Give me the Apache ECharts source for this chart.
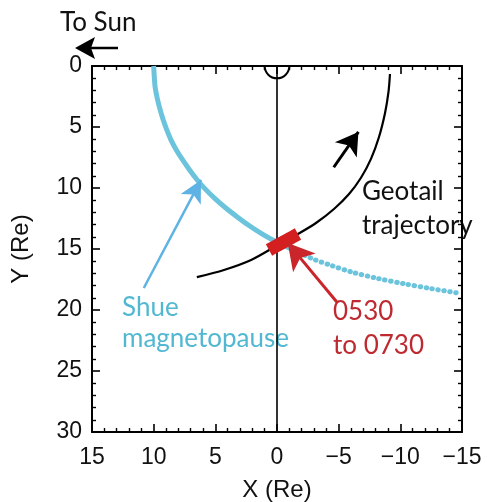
<!DOCTYPE html>
<html>
<head>
<meta charset="utf-8">
<script src="https://cdn.jsdelivr.net/npm/echarts@6/dist/echarts.min.js"></script>
<style>
  html, body { margin: 0; padding: 0; background: #fff; }
  #chart { width: 487px; height: 502px; }
</style>
</head>
<body>
<div id="chart"></div>
<script>
// Shue model magnetopause in the X-Y plane (Re); solid on the dayside, dotted downstream
const shueSolid = [
  [10.0, 0], [9.95, 0.9], [9.88, 1.75], [9.72, 2.6], [9.5, 3.5], [9.25, 4.35],
  [8.95, 5.2], [8.6, 6.05], [8.15, 6.9], [7.65, 7.7], [7.1, 8.5],
  [6.5, 9.3], [5.85, 10.05], [5.05, 10.85], [4.2, 11.6], [3.25, 12.35],
  [2.3, 13.05], [1.15, 13.8], [0, 14.45], [-0.95, 14.9], [-1.8, 15.3]
];
const shueDotted = [
  [-1.8, 15.3], [-3, 15.85], [-4.4, 16.35], [-6.1, 16.9], [-8.1, 17.4],
  [-10.3, 17.85], [-12.5, 18.25], [-14.6, 18.6]
];
// Geotail orbit track and the 0530-0730 interval on it
const geotailTrack = [
  [6.5, 17.3], [4.3, 16.72], [2.1, 15.9], [-0.08, 14.67], [-1.7, 13.77],
  [-3.16, 12.87], [-4.62, 11.72], [-5.84, 10.49], [-6.81, 9.16],
  [-7.62, 7.61], [-8.27, 5.82], [-8.76, 3.85], [-9.04, 2.13], [-9.16, 0.66]
];
const geotailInterval = [[0.65, 15.08], [-0.08, 14.67], [-0.9, 14.22], [-1.7, 13.77]];
// Noon-midnight meridian and the Earth (radius 1 Re)
const meridian = [[0, 0], [0, 30]];
const earth = [[0, 0, 1]];
// Annotation arrows: [tail, tip]
const motionArrow = [[-4.6, 8.3], [-6.6, 5.4]];
const shueArrow = [[10.8, 18.2], [6.16, 9.34]];
const intervalArrow = [[-4.9, 19.4], [-0.87, 14.5]];
// Axis ticks
const xTickValues = [15, 10, 5, 0, -5, -10, -15];
const yTickValues = [0, 5, 10, 15, 20, 25, 30];

const fmt = v => (v < 0 ? '\u2212' + Math.abs(v) : String(v));

const chart = echarts.init(document.getElementById('chart'), null, { renderer: 'canvas' });

const axisCommon = {
  type: 'value',
  interval: 5,
  inverse: true,
  axisLine: { show: true, onZero: false, lineStyle: { color: '#000', width: 2 } },
  axisTick: { show: true, inside: true, length: 8, lineStyle: { color: '#000', width: 1.6 } },
  minorTick: { show: true, splitNumber: 5, length: 4, lineStyle: { color: '#000', width: 1.4 } },
  splitLine: { show: false },
  minorSplitLine: { show: false }
};
const labelStyle = {
  fontFamily: 'Liberation Sans, Arial, sans-serif',
  fontSize: 23,
  color: '#111'
};
const nameStyle = {
  fontFamily: 'Liberation Sans, Arial, sans-serif',
  fontSize: 24,
  color: '#111'
};

function arrowLine(pair, color, width, size) {
  return [
    { coord: pair[0], symbol: 'none' },
    { coord: pair[1], symbol: 'arrow', symbolSize: size,
      lineStyle: { color: color, width: width } }
  ];
}

const option = {
  animation: false,
  backgroundColor: '#fff',
  grid: { left: 92, right: 25, top: 66, bottom: 70, containLabel: false, outerBoundsMode: 'none' },
  xAxis: [
    Object.assign({}, axisCommon, {
      min: xTickValues[xTickValues.length - 1], max: xTickValues[0], position: 'bottom',
      axisLabel: Object.assign({ margin: 14, formatter: fmt }, labelStyle),
      name: 'X (Re)', nameLocation: 'middle', nameGap: 46, nameTextStyle: nameStyle
    }),
    Object.assign({}, axisCommon, {
      min: xTickValues[xTickValues.length - 1], max: xTickValues[0], position: 'top',
      axisLabel: { show: false }
    })
  ],
  yAxis: [
    Object.assign({}, axisCommon, {
      min: yTickValues[0], max: yTickValues[yTickValues.length - 1], position: 'left',
      axisLabel: Object.assign({ margin: 10, formatter: fmt }, labelStyle),
      name: 'Y (Re)', nameLocation: 'middle', nameGap: 59, nameTextStyle: nameStyle
    }),
    Object.assign({}, axisCommon, {
      min: yTickValues[0], max: yTickValues[yTickValues.length - 1], position: 'right',
      axisLabel: { show: false }
    })
  ],
  series: [
    {
      name: 'meridian', type: 'line', data: meridian, showSymbol: false, silent: true,
      lineStyle: { color: '#000', width: 1.6 }
    },
    {
      name: 'earth', type: 'custom', data: earth, silent: true,
      renderItem: function (params, api) {
        const c = api.coord([api.value(0), api.value(1)]);
        const r = Math.abs(api.size([api.value(2), 0])[0]);
        return {
          type: 'arc',
          shape: { cx: c[0], cy: c[1], r: r, startAngle: 0, endAngle: Math.PI, clockwise: true },
          style: { stroke: '#000', lineWidth: 2, fill: 'none' }
        };
      }
    },
    {
      name: 'Shue magnetopause', type: 'line', data: shueSolid, smooth: 0.2,
      showSymbol: false, silent: true,
      lineStyle: { color: '#6cc4dc', width: 5 }
    },
    {
      name: 'Shue magnetopause (tail)', type: 'line', data: shueDotted, smooth: 0.3,
      showSymbol: false, silent: true,
      lineStyle: { color: '#6cc4dc', width: 5, type: [0.5, 5.5], cap: 'round' }
    },
    {
      name: 'Geotail trajectory', type: 'line', data: geotailTrack, smooth: 0.3,
      showSymbol: false, silent: true,
      lineStyle: { color: '#000', width: 2.2 }
    },
    {
      name: '0530 to 0730', type: 'line', data: geotailInterval, smooth: 0.3,
      showSymbol: false, silent: true,
      lineStyle: { color: '#d41f20', width: 13, cap: 'butt' }
    },
    {
      name: 'arrows', type: 'line', data: [], silent: true,
      markLine: {
        silent: true,
        animation: false,
        label: { show: false },
        lineStyle: { type: 'solid' },
        data: [
          arrowLine(motionArrow, '#000', 3, [20, 22]),
          arrowLine(shueArrow, '#5eb2e4', 2.5, [17, 22]),
          arrowLine(intervalArrow, '#c9252a', 3, [22, 26])
        ]
      }
    }
  ],
  graphic: [
    { type: 'line', shape: { x1: 118, y1: 48, x2: 90, y2: 48 }, style: { stroke: '#000', lineWidth: 2.5 } },
    { type: 'polygon', shape: { points: [[75, 48], [95, 37], [91, 48], [95, 59]] }, style: { fill: '#000' } },
    { type: 'text', x: 60, y: 23, style: { text: 'To Sun', font: '26px Lato', fill: '#111', verticalAlign: 'middle' } },
    { type: 'text', x: 362, y: 192, style: { text: 'Geotail', font: '26px Lato', fill: '#111', verticalAlign: 'middle' } },
    { type: 'text', x: 362, y: 226, style: { text: 'trajectory', font: '26px Lato', fill: '#111', verticalAlign: 'middle' } },
    { type: 'text', x: 122, y: 308, style: { text: 'Shue', font: '26px Lato', fill: '#52b8d2', verticalAlign: 'middle' } },
    { type: 'text', x: 122, y: 339, style: { text: 'magnetopause', font: '26px Lato', fill: '#52b8d2', verticalAlign: 'middle' } },
    { type: 'text', x: 333, y: 312, style: { text: '0530', font: '26px Lato', fill: '#bf2a30', verticalAlign: 'middle' } },
    { type: 'text', x: 333, y: 346, style: { text: 'to 0730', font: '26px Lato', fill: '#bf2a30', verticalAlign: 'middle' } }
  ]
};

chart.setOption(option);
</script>
</body>
</html>
